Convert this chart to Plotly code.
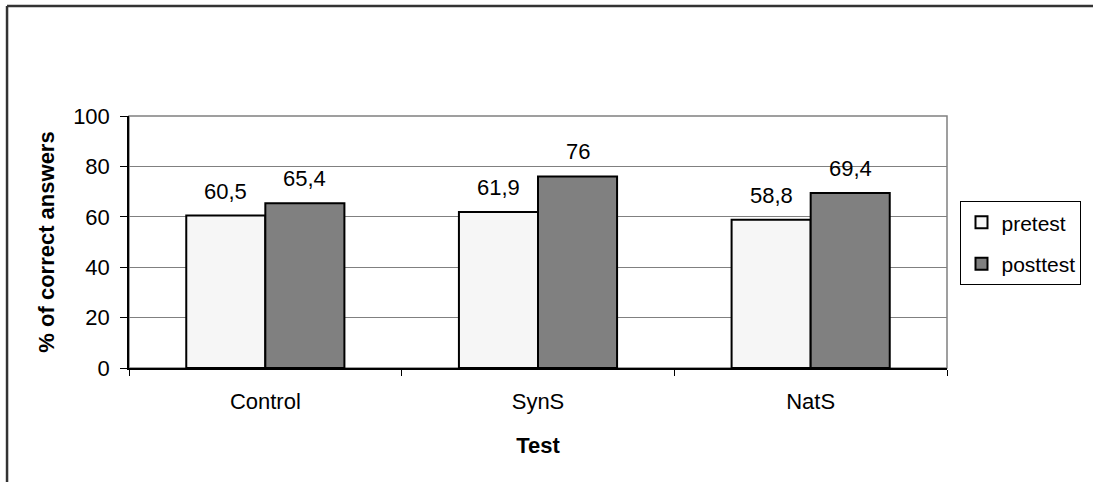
import plotly.graph_objects as go

# Data
categories = ["Control", "SynS", "NatS"]
pretest = [60.5, 61.9, 58.8]
posttest = [65.4, 76, 69.4]
series_names = ["pretest", "posttest"]
y_ticks = [0, 20, 40, 60, 80, 100]


def fmt(v):
    return f"{v:g}".replace(".", ",")


FONT = "Liberation Sans, Arial, sans-serif"
BARGAP = 0.42
FS = 22

fig = go.Figure()
fig.add_trace(go.Bar(
    name=series_names[0], x=categories, y=pretest, legendgroup="a",
    marker=dict(color="#f6f6f6", line=dict(color="#000000", width=2)),
))
fig.add_trace(go.Bar(
    name=series_names[1], x=categories, y=posttest, legendgroup="b",
    marker=dict(color="#808080", line=dict(color="#000000", width=2)),
))

# Value labels above each bar
half = (1 - BARGAP) / 4
for i, cat in enumerate(categories):
    for off, vals in ((-half, pretest), (half, posttest)):
        fig.add_annotation(
            x=i + off, y=vals[i], xref="x", yref="y",
            text=fmt(vals[i]), showarrow=False,
            yanchor="bottom", yshift=10,
            font=dict(family=FONT, size=FS, color="#000000"),
        )

# Plot area frame (grey)
fig.add_shape(type="rect", xref="paper", yref="paper", x0=0, x1=1, y0=0, y1=1,
              line=dict(color="#808080", width=1.5), layer="below")
# Outer chart border: top and left edges, kept inside the page
BX, BY = -0.1491, 1.4365
RIGHT, BOTTOM = 1.1785, -0.4524
fig.add_shape(type="line", xref="paper", yref="paper",
              x0=BX, x1=RIGHT, y0=BY, y1=BY, line=dict(color="#333333", width=2.5))
fig.add_shape(type="line", xref="paper", yref="paper",
              x0=BX, x1=BX, y0=BOTTOM, y1=BY, line=dict(color="#333333", width=2.5))

fig.update_layout(
    width=1093, height=482,
    margin=dict(l=129, r=146, t=116, b=114),
    paper_bgcolor="white", plot_bgcolor="white",
    barmode="group", bargap=BARGAP, bargroupgap=0,
    font=dict(family=FONT, size=FS, color="#000000"),
    showlegend=True,
    legend=dict(
        x=1.0165, y=0.662, xanchor="left", yanchor="top",
        bordercolor="#000000", borderwidth=1,
        font=dict(family=FONT, size=21),
        itemwidth=30, traceorder="grouped", tracegroupgap=11,
    ),
)

fig.update_xaxes(
    type="category",
    showline=True, linecolor="#000000", linewidth=1.5,
    ticks="outside", tickson="boundaries", ticklen=6, tickcolor="#000000",
    ticklabelstandoff=13,
    tickfont=dict(family=FONT, size=FS),
    title=dict(text="<b>Test</b>", font=dict(family=FONT, size=FS), standoff=24),
    showgrid=False,
)
fig.update_yaxes(
    range=[0, 100], tickvals=y_ticks,
    showline=True, linecolor="#000000", linewidth=1.5,
    ticks="outside", ticklen=7, tickcolor="#000000",
    ticklabelstandoff=6,
    tickfont=dict(family=FONT, size=FS),
    showgrid=True, gridcolor="#808080", gridwidth=1,
    zeroline=False,
    title=dict(text="<b>% of correct answers</b>", font=dict(family=FONT, size=FS), standoff=12),
)

fig.write_html("out.html", config={"displayModeBar": False})
